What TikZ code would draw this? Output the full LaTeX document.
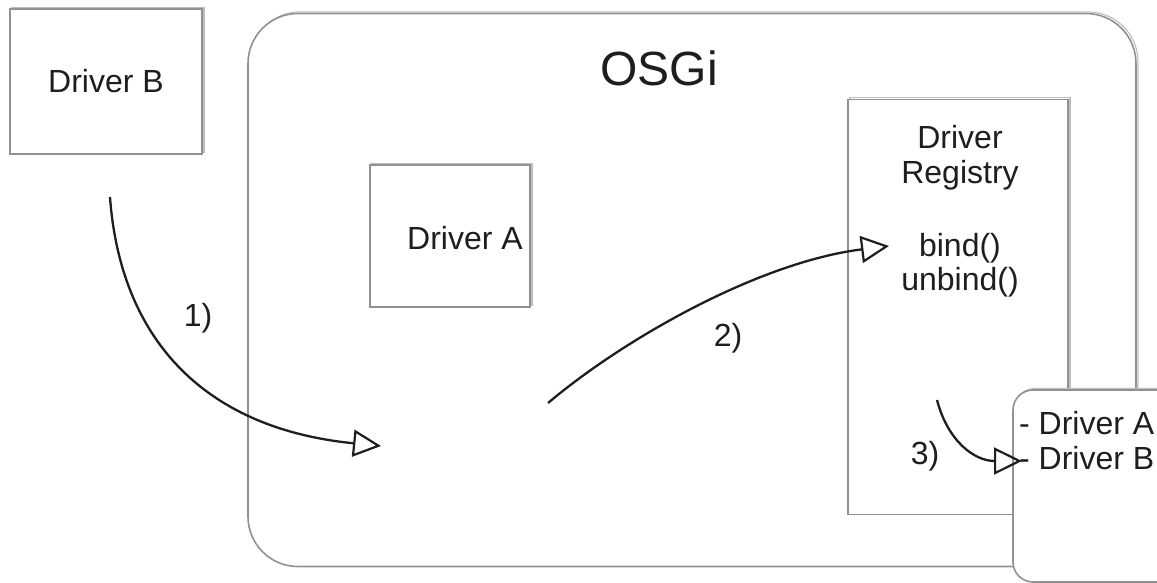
\documentclass[tikz,border=0pt]{standalone}
\usepackage{fontspec}
\setmainfont{Liberation Sans}
\usetikzlibrary{arrows.meta}
\definecolor{edge}{RGB}{145,145,145}
\definecolor{edgelight}{RGB}{190,190,190}
\definecolor{ink}{RGB}{30,30,30}
\tikzset{
  sketchbox/.style={draw=edge, line width=1.6pt, fill=white, inner sep=0pt,
    preaction={draw=edgelight, line width=1.1pt,
      transform canvas={shift={(2pt,1.6pt)}}}},
  lbl/.style={font=\fontsize{32}{36}\selectfont, text=ink, inner sep=0pt, align=center},
  flow/.style={draw=ink, line width=2.3pt,
    -{Triangle[open, length=28pt, width=27pt, line width=2.2pt]}},
}
\begin{document}
\begin{tikzpicture}[x=1pt,y=-1pt]
  \useasboundingbox[fill=white] (0,0) rectangle (1157,582);

  % framework container
  \node[sketchbox, rounded corners=50pt, minimum width=888pt, minimum height=553pt]
    (osgi) at (692,290) {};
  \node[lbl, font=\fontsize{48}{52}\selectfont] (osgititle) at (659,68) {OSGi};

  % bundles
  \node[sketchbox, minimum width=192pt, minimum height=145pt] (drvB) at (106,81.5) {};
  \node[lbl] at (drvB) {Driver B};

  \node[sketchbox, minimum width=160pt, minimum height=142pt] (drvA) at (450,236) {};
  \node[lbl] at (465,238) {Driver A};

  % registry service
  \node[sketchbox, minimum width=220pt, minimum height=415pt] (reg) at (958,307) {};
  \node[lbl, font=\fontsize{32}{35}\selectfont] (regname) at (960,158) {Driver\\Registry};
  \node[lbl, font=\fontsize{32}{34}\selectfont] (regops) at (960,265) {bind()\\unbind()};

  % registered drivers list
  \node[sketchbox, rounded corners=20pt, minimum width=170pt, minimum height=192pt]
    (list) at (1098,486) {};
  \node[lbl, anchor=west] (listA) at (1019,423) {- Driver A};
  \node[lbl, anchor=west] (listB) at (1019,458) {- Driver B};

  % step labels
  \node[lbl] (s1) at (198,318) {1)};
  \node[lbl] (s2) at (728,338) {2)};
  \node[lbl] (s3) at (925,456) {3)};

  % interaction flow
  \coordinate (b0) at (110,197);
  \coordinate (b1) at (381,446);
  \coordinate (a0) at (548,403);
  \coordinate (a1) at (889,246);
  \coordinate (r0) at (937,400);
  \coordinate (r1) at (1022,461);
  \draw[flow] (b0) .. controls (120,335) and (200,428) .. (b1);
  \draw[flow] (a0) .. controls (625,338) and (760,262) .. (a1);
  \draw[flow] (r0) .. controls (948,442) and (975,461) .. (r1);
\end{tikzpicture}
\end{document}
